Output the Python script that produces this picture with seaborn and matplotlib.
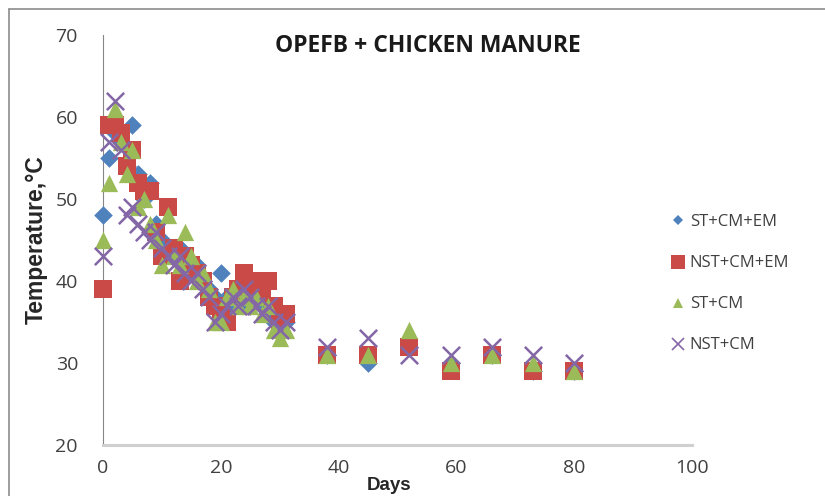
import matplotlib
matplotlib.use("Agg")
import matplotlib.pyplot as plt
from matplotlib.lines import Line2D
import seaborn as sns
import pandas as pd

# Sampling days of the composting trial
days = [0, 1, 2, 3, 4, 5, 6, 7, 8, 9, 10, 11, 12, 13, 14, 15, 16, 17, 18, 19,
        20, 21, 22, 23, 24, 25, 26, 27, 28, 29, 30, 31, 38, 45, 52, 59, 66, 73, 80]

# Pile temperatures (°C) for each treatment
st_cm_em = [48, 55, 58, 57, 54, 59, 53, 50, 52, 47, 45, 44, 43, 44, 42, 41, 42, 40, 39, 38,
            41, 38, 37, 38, 39, 37, 38, 37, 36, 35, 34, 35, 31, 30, 32, 30, 31, 29, 29]
nst_cm_em = [39, 59, 59, 58, 54, 56, 52, 51, 51, 46, 43, 49, 44, 40, 43, 42, 41, 40, 38, 37,
             36, 35, 38, 39, 41, 40, 38, 39, 40, 37, 35, 36, 31, 31, 32, 29, 31, 29, 29]
st_cm = [45, 52, 61, 57, 53, 56, 49, 50, 47, 45, 42, 48, 43, 42, 46, 43, 40, 41, 39, 35,
         35, 38, 39, 37, 38, 37, 38, 36, 37, 34, 33, 34, 31, 31, 34, 30, 31, 30, 29]
nst_cm = [43, 57, 62, 56, 48, 49, 47, 46, 45, 46, 44, 43, 42, 43, 41, 40, 41, 39, 38, 35,
          36, 37, 38, 37, 39, 38, 37, 36, 37, 35, 34, 35, 32, 33, 31, 31, 32, 31, 30]

series_names = ["ST+CM+EM", "NST+CM+EM", "ST+CM", "NST+CM"]
series_values = [st_cm_em, nst_cm_em, st_cm, nst_cm]

title = "OPEFB + CHICKEN MANURE"
x_label = "Days"
y_label = "Temperature,\u00b0C"
x_ticks = [0, 20, 40, 60, 80, 100]
y_ticks = [20, 30, 40, 50, 60, 70]

df = pd.DataFrame({
    "Days": days * len(series_names),
    "Temperature": [v for vals in series_values for v in vals],
    "Treatment": [n for n in series_names for _ in days],
})

sns.set_theme(style="white")
plt.rcParams["font.family"] = ["Open Sans", "DejaVu Sans"]

styles = {
    "ST+CM+EM": dict(marker="D", color="#4F81BD", s=90),
    "NST+CM+EM": dict(marker="s", color="#C94A47", s=185),
    "ST+CM": dict(marker="^", color="#9BBB59", s=155),
    "NST+CM": dict(marker="x", color="#8467A6", s=155),
}

fig = plt.figure(figsize=(8.25, 4.96), dpi=100)
ax = fig.add_axes([103 / 825, 1 - 445 / 496, (692 - 103) / 825, (445 - 35) / 496])

for name in series_names:
    st = styles[name]
    sub = df[df["Treatment"] == name]
    if st["marker"] == "x":
        sns.scatterplot(data=sub, x="Days", y="Temperature", ax=ax, marker="x",
                        color=st["color"], s=st["s"], linewidth=1.8, label=name,
                        legend=False, clip_on=False, zorder=3)
    else:
        sns.scatterplot(data=sub, x="Days", y="Temperature", ax=ax, marker=st["marker"],
                        color=st["color"], s=st["s"], linewidth=0, label=name,
                        legend=False, clip_on=False, zorder=3)

ax.set_xlim(0, 100)
ax.set_ylim(20, 70)
ax.set_xticks(x_ticks)
ax.set_yticks(y_ticks)
ax.tick_params(axis="both", which="major", length=5, width=0.8, color="#868686",
               labelsize=14, labelcolor="#404040", direction="out")
ax.tick_params(axis="x", pad=5)
ax.tick_params(axis="y", pad=13)
for side in ("top", "right"):
    ax.spines[side].set_visible(False)
ax.spines["left"].set_color("#868686")
ax.spines["left"].set_linewidth(0.8)
ax.spines["bottom"].set_color("#D0D0D0")
ax.spines["bottom"].set_linewidth(2.2)
ax.set_xlabel(x_label, fontsize=13.5, fontweight="bold", family=["Liberation Sans"],
              labelpad=0)
ax.set_ylabel(y_label, fontsize=16.5, fontweight="bold", family=["Liberation Sans"],
              labelpad=0)
ax.xaxis.set_label_coords(0.485, -0.077)
ax.yaxis.set_label_coords(-0.093, 0.5)
fig.text(428 / 825, 1 - 46 / 496, title, ha="center", va="center",
         fontsize=16.5, fontweight="bold", color="#1a1a1a")

handles = [
    Line2D([], [], linestyle="none", marker=styles[n]["marker"], color=styles[n]["color"],
           markersize={"D": 5.5, "s": 10, "^": 7.5, "x": 8.5}[styles[n]["marker"]],
           markeredgewidth=1.2 if styles[n]["marker"] == "x" else 0)
    for n in series_names
]
leg = fig.legend(handles, series_names, loc="upper left",
                 bbox_to_anchor=(663 / 825, 1 - 206 / 496), frameon=False,
                 fontsize=12, labelspacing=1.5, handlelength=0.8, handletextpad=0.3,
                 borderpad=0)
for t in leg.get_texts():
    t.set_color("#404040")

# outer chart border
fig.add_artist(Line2D([9 / 825, 9 / 825], [0, 1 - 9 / 496], transform=fig.transFigure,
                      color="#8c8c8c", linewidth=1.2))
fig.add_artist(Line2D([9 / 825, 1], [1 - 9 / 496, 1 - 9 / 496], transform=fig.transFigure,
                      color="#8c8c8c", linewidth=1.2))

fig.savefig("out.png", dpi=100)
